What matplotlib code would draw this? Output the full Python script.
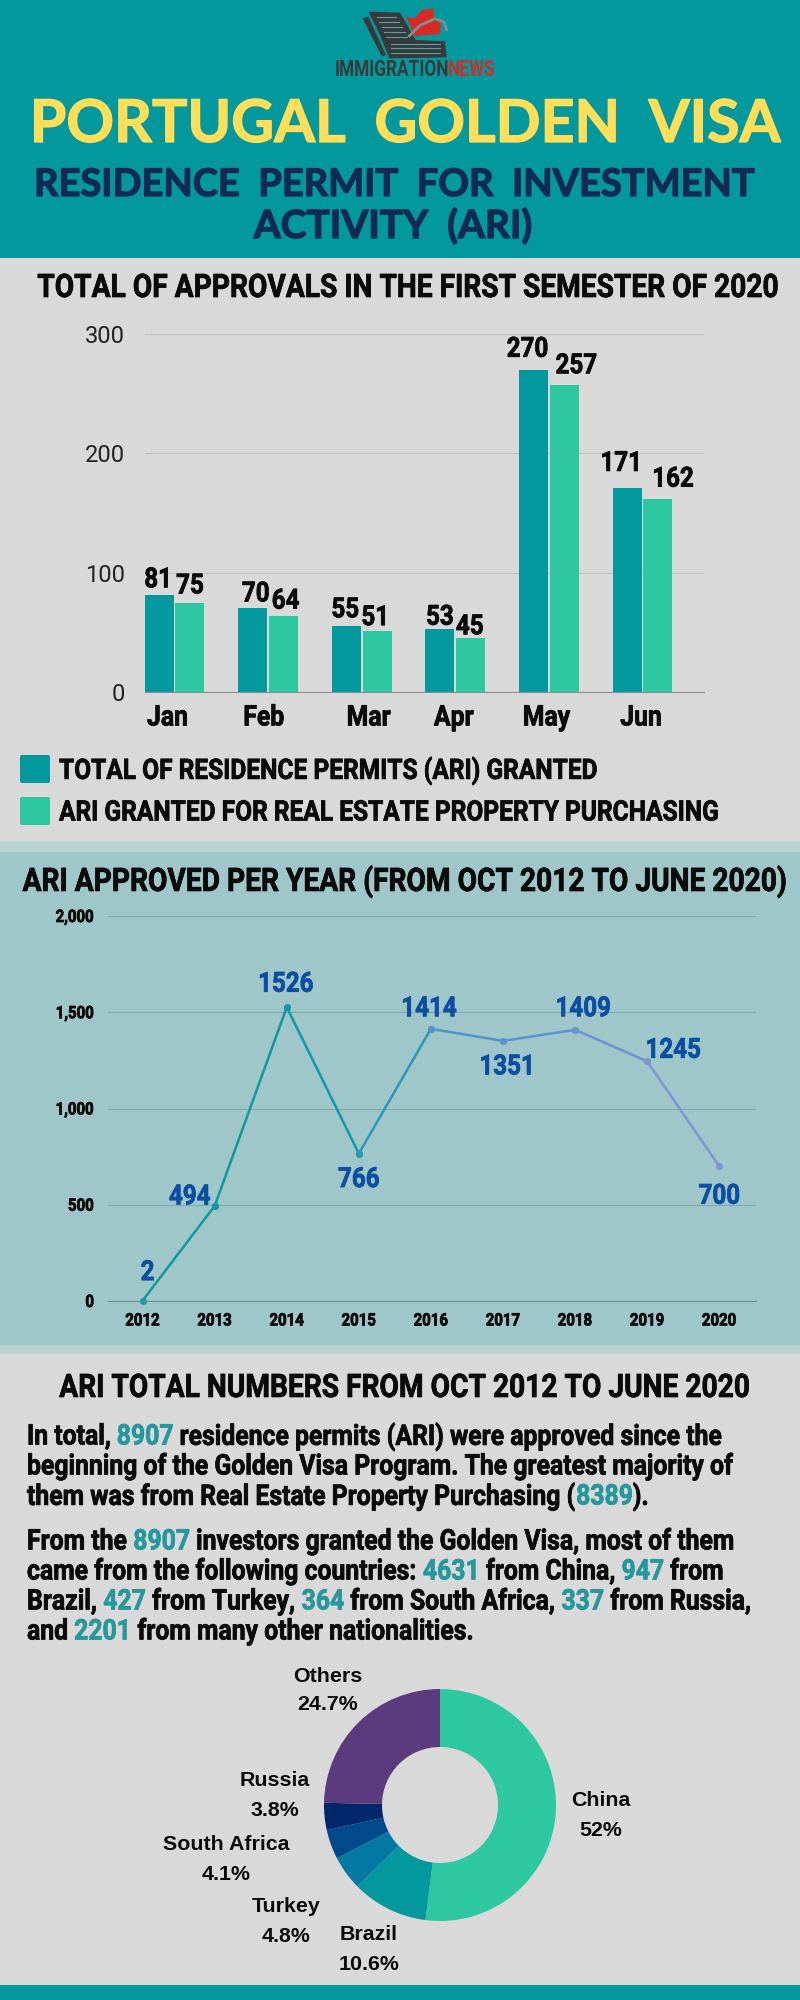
import os
import tempfile
import matplotlib
matplotlib.use("Agg")
import matplotlib.pyplot as plt
from matplotlib import font_manager as fm
from matplotlib import patheffects as pe
from matplotlib.font_manager import FontProperties
from matplotlib.patches import Polygon, Rectangle, FancyBboxPatch
from matplotlib.text import Text
from fontTools.ttLib import TTFont

# ---- data ----
months = ["Jan", "Feb", "Mar", "Apr", "May", "Jun"]
total_ari = [81, 70, 55, 53, 270, 171]
real_estate = [75, 64, 51, 45, 257, 162]
years = ["2012", "2013", "2014", "2015", "2016", "2017", "2018", "2019", "2020"]
approved = [2, 494, 1526, 766, 1414, 1351, 1409, 1245, 700]
countries = ["China", "Brazil", "Turkey", "South Africa", "Russia", "Others"]
shares = [52, 10.6, 4.8, 4.1, 3.8, 24.7]
share_labels = ["52%", "10.6%", "4.8%", "4.1%", "3.8%", "24.7%"]

TEAL = "#03989e"
MINT = "#2dc8a0"
GRAY = "#d9d9d9"
PALE = "#9fc6c8"
BAND = "#b9d2d2"
NAVY = "#0f2a55"
YELLOW = "#ffde59"
BLUE = "#0b4ea2"
INK = "#0a0a0a"
NUM = "#26979c"
donut_colors = ["#2dc8a0", "#03989e", "#0378a3", "#004a8c", "#00276b", "#5b3a7e"]
segment_colors = ["#0e9a9c", "#0e9a9c", "#0f9aa8", "#2a98b8", "#4d94cc", "#5a94d0", "#6a94d0", "#7f94d4"]


# no condensed family is installed, so squeeze Roboto Bold into one
def squeezed_font(sx, fname):
    src = fm.findfont(FontProperties(family="Roboto", weight="bold"))
    f = TTFont(src)
    glyf = f["glyf"]
    hmtx = f["hmtx"]
    for name in f.getGlyphOrder():
        g = glyf[name]
        if g.isComposite():
            for c in g.components:
                c.x = round(c.x * sx)
        elif g.numberOfContours > 0:
            g.coordinates.scale((sx, 1))
            g.coordinates.toInt()
            g.removeHinting()
        adv, lsb = hmtx[name]
        hmtx[name] = (round(adv * sx), round(lsb * sx))
    for tag in ["kern", "GPOS", "GSUB", "GDEF", "fpgm", "prep", "cvt ", "hdmx", "VDMX", "LTSH"]:
        if tag in f:
            del f[tag]
    path = os.path.join(tempfile.mkdtemp(), fname)
    f.save(path)
    return path


COND = squeezed_font(0.87, "roboto_cond.ttf")
NARROW = squeezed_font(0.8, "roboto_narrow.ttf")
HEAD = "Lato"
LABEL = "Liberation Sans"


def cond(size):
    return FontProperties(fname=COND, size=size)


W, H = 800, 2000
fig = plt.figure(figsize=(8, 20), dpi=100, facecolor=GRAY)

# background layer in pixel coordinates, y going down
bg = fig.add_axes([0, 0, 1, 1])
bg.set_xlim(0, W)
bg.set_ylim(H, 0)
bg.axis("off")
for top, bottom, col in [(0, 258, TEAL), (258, 841, GRAY), (841, 852, BAND), (852, 1345, PALE),
                         (1345, 1354, BAND), (1354, 1985, GRAY), (1985, 2000, TEAL)]:
    bg.add_patch(Rectangle((0, top), W, bottom - top, color=col, lw=0))


# logo, sketched in the pixels of a 3x crop of the corner
def lp(pts):
    return [(320 + a / 3, b / 3) for a, b in pts]


DARK = "#37393b"
RED = "#d62a22"
bg.add_patch(Polygon(lp([(128, 55), (145, 50), (198, 165), (186, 170)]), color=DARK, lw=0))
bg.add_patch(Polygon(lp([(145, 35), (240, 38), (287, 120), (375, 124), (380, 172), (208, 175), (178, 100)]), color=DARK, lw=0))
for a0, a1, y0 in [(170, 228, 50), (178, 238, 65), (185, 246, 80), (192, 254, 95), (198, 262, 110)]:
    bg.plot(*zip(*lp([(a0, y0), (a1, y0)])), color="#5f9ea3", lw=0.8)
for y0 in [132, 145, 158]:
    bg.plot(*zip(*lp([(212, y0), (360, y0)])), color="#5f9ea3", lw=0.8)
bg.add_patch(Polygon(lp([(258, 50), (285, 55), (305, 30), (340, 25), (342, 55), (362, 72), (360, 102), (282, 108), (275, 85)]), color=RED, lw=0))
bg.plot(*zip(*lp([(268, 108), (300, 76), (345, 56), (372, 66), (380, 90)])), color="#7f8f93", lw=2)
bg.text(335, 70, "IMMIGRATION", fontproperties=FontProperties(fname=NARROW, size=15.5), color=DARK, ha="left", va="center")
bg.text(448, 70, "NEWS", fontproperties=FontProperties(fname=NARROW, size=15.5), color="#c9302c", ha="left", va="center")

# header
for y, s, size, col, x in [(125, "PORTUGAL  GOLDEN  VISA", 42.5, YELLOW, 405),
                           (185, "RESIDENCE  PERMIT  FOR  INVESTMENT", 27.4, NAVY, 393),
                           (226, "ACTIVITY  (ARI)", 28, NAVY, 393)]:
    bg.text(x, y, s, fontsize=size, fontweight="bold", family=HEAD, color=col, ha="center", va="center",
            path_effects=[pe.withStroke(linewidth=0.9, foreground=col)])


def title(x, y, s, size, ha="center"):
    bg.text(x, y, s, fontproperties=cond(size), color=INK, ha=ha, va="center")


title(408, 288, "TOTAL OF APPROVALS IN THE FIRST SEMESTER OF 2020", 23.3)
title(405, 882, "ARI APPROVED PER YEAR (FROM OCT 2012 TO JUNE 2020)", 23.3)
title(405, 1388, "ARI TOTAL NUMBERS FROM OCT 2012 TO JUNE 2020", 23.3)

# legend of the bar chart
for y, col, s in [(769, TEAL, "TOTAL OF RESIDENCE PERMITS (ARI) GRANTED"),
                  (811, MINT, "ARI GRANTED FOR REAL ESTATE PROPERTY PURCHASING")]:
    bg.add_patch(FancyBboxPatch((20, y - 14), 30, 28, boxstyle="round,pad=0,rounding_size=2", color=col, lw=0))
    title(59, y + 2, s, 20.3, ha="left")


def axes_px(left, top, right, bottom):
    ax = fig.add_axes([left / W, 1 - bottom / H, (right - left) / W, (bottom - top) / H])
    ax.patch.set_alpha(0)
    return ax


# bar chart
ax = axes_px(144.6, 334, 704, 692)
pos = list(range(len(months)))
bw = 0.31
ax.bar([p - 0.165 for p in pos], total_ari, bw, color=TEAL)
ax.bar([p + 0.165 for p in pos], real_estate, bw, color=MINT)
# the labels sit a little off their bars in the original
total_off = [(-1, 8), (3, 7), (-1, 9), (0, 4), (-6, 13), (-6, 17)]
estate_off = [(0, 9), (2, 7), (-2, 6), (-1, 4), (12, 12), (15, 12)]
for p, a, b, oa, ob in zip(pos, total_ari, real_estate, total_off, estate_off):
    ax.annotate(str(a), (p - 0.165, a), xytext=oa, textcoords="offset pixels", ha="center", va="baseline",
                fontproperties=cond(20), color=INK)
    ax.annotate(str(b), (p + 0.165, b), xytext=ob, textcoords="offset pixels", ha="center", va="baseline",
                fontproperties=cond(20), color=INK)
ax.set_xlim(-0.32, 5.657)
ax.set_ylim(0, 300)
ax.set_yticks([0, 100, 200, 300])
ax.set_xticks([])
ax.tick_params(axis="y", length=0, pad=14, labelsize=17, labelcolor="#222222")
for t in ax.get_yticklabels():
    t.set_fontfamily("Roboto")
ax.grid(axis="y", color="#c2c2c2", lw=0.9)
ax.set_axisbelow(True)
for s in ["top", "left", "right"]:
    ax.spines[s].set_visible(False)
ax.spines["bottom"].set_color("#8f8f8f")
month_x = [167.5, 263.8, 368.8, 453.8, 546.6, 641]
for mx, m in zip(month_x, months):
    bg.text(mx, 718, m, fontproperties=cond(20.5), color=INK, ha="center", va="center")

# line chart
ax2 = axes_px(108, 916, 756, 1301)
x = list(range(len(years)))
for i, col in enumerate(segment_colors):
    ax2.plot(x[i:i + 2], approved[i:i + 2], color=col, lw=1.8, marker="o", ms=4, clip_on=False)
offsets = [(5, 28), (-25, 9), (-1, 23), (0, -26), (-2, 20), (4, -26), (8, 21), (26, 11), (0, -30)]
for xi, v, off in zip(x, approved, offsets):
    ax2.annotate(str(v), (xi, v), xytext=off, textcoords="offset pixels", ha="center", va="center",
                 fontproperties=cond(20), color=BLUE)
ax2.set_xlim(-0.48, 8.51)
ax2.set_ylim(0, 2000)
ax2.set_yticks([0, 500, 1000, 1500, 2000], ["0", "500", "1,000", "1,500", "2,000"])
ax2.set_xticks(x, years)
ax2.tick_params(axis="both", length=0)
ax2.tick_params(axis="x", pad=9)
ax2.tick_params(axis="y", pad=10)
for t in ax2.get_xticklabels() + ax2.get_yticklabels():
    t.set_fontproperties(cond(12.4))
    t.set_color(INK)
ax2.grid(axis="y", color="#82adb0", lw=0.9)
ax2.set_axisbelow(True)
for s in ["top", "left", "right"]:
    ax2.spines[s].set_visible(False)
ax2.spines["bottom"].set_color("#6f8f92")

# paragraphs, drawn run by run so the numbers can be coloured
para = [
    (1437, [("In total, ", 0), ("8907", 1), (" residence permits (ARI) were approved since the", 0)]),
    (1467, [("beginning of the Golden Visa Program. The greatest majority of", 0)]),
    (1497, [("them was from Real Estate Property Purchasing (", 0), ("8389", 1), (").", 0)]),
    (1542, [("From the ", 0), ("8907", 1), (" investors granted the Golden Visa, most of them", 0)]),
    (1572, [("came from the following countries: ", 0), ("4631", 1), (" from China, ", 0), ("947", 1), (" from", 0)]),
    (1602, [("Brazil, ", 0), ("427", 1), (" from Turkey, ", 0), ("364", 1), (" from South Africa, ", 0), ("337", 1), (" from Russia,", 0)]),
    (1632, [("and ", 0), ("2201", 1), (" from many other nationalities.", 0)]),
]
fig.canvas.draw()
rend = fig.canvas.get_renderer()
for y, runs in para:
    cur = 27
    for s, hi in runs:
        bg.text(cur, y, s, fontproperties=cond(20.5), color=NUM if hi else INK, ha="left", va="center")
        # spaces at the ends are measured with a stand-in so they keep their width
        probe = bg.text(0, 0, s.replace(" ", "\u00a0"), fontproperties=cond(20.5))
        cur += probe.get_window_extent(rend).width
        probe.remove()

# donut
ax3 = axes_px(324, 1689, 556, 1921)
ax3.pie(shares, colors=donut_colors, startangle=90, counterclock=False, radius=1,
        wedgeprops={"width": 0.5, "linewidth": 0})
ax3.set_xlim(-1, 1)
ax3.set_ylim(-1, 1)
label_x = [601, 369, 286, 226, 275, 328]
name_y = [1800, 1934, 1907, 1845, 1781, 1676]
value_y = [1830, 1964, 1936, 1875, 1810, 1705]
for lx, ny, vy, c, l in zip(label_x, name_y, value_y, countries, share_labels):
    bg.text(lx, ny, c, fontsize=15.4, fontweight="bold", family=LABEL, color=INK, ha="center", va="center")
    bg.text(lx, vy, l, fontsize=15.4, fontweight="bold", family=LABEL, color=INK, ha="center", va="center")

# the original's condensed bold is a little heavier than the squeezed one
for t in fig.findobj(Text):
    if t.get_fontproperties().get_file() == COND:
        t.set_path_effects([pe.withStroke(linewidth=0.5, foreground=t.get_color())])

fig.savefig("out.png", dpi=100, facecolor=GRAY)
